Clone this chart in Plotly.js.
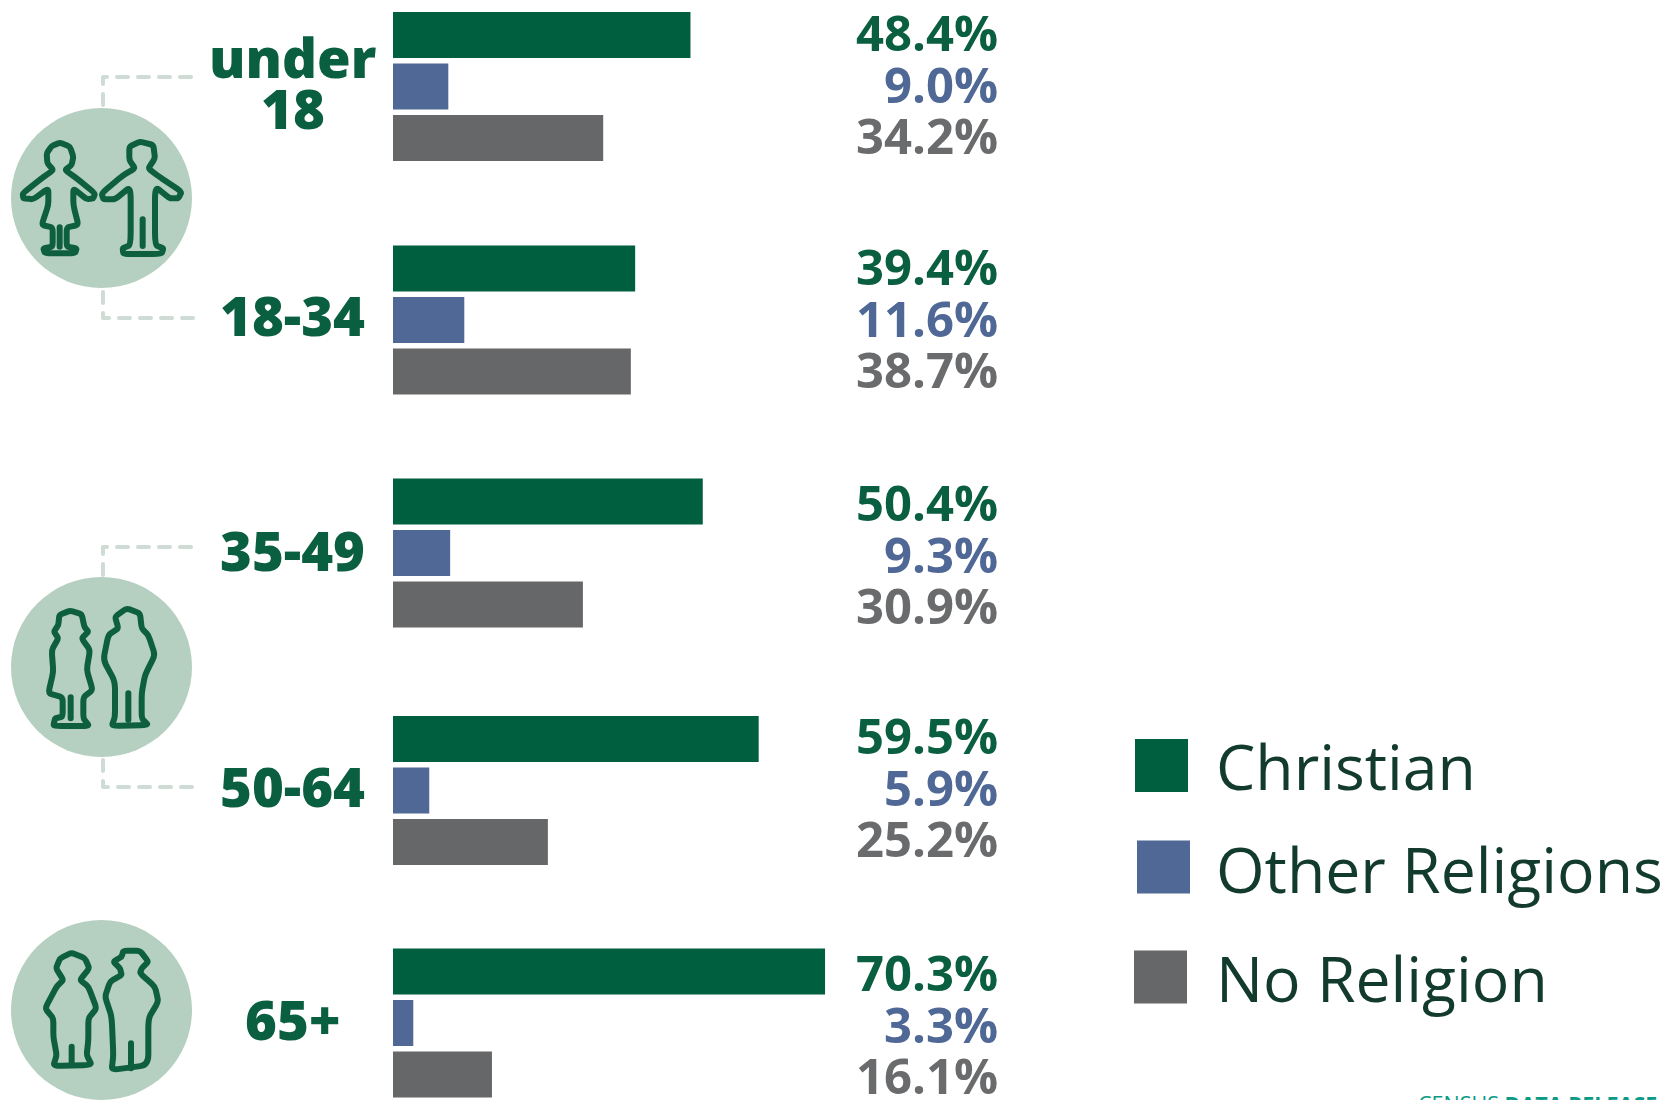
<!DOCTYPE html>
<html>
<head>
<meta charset="utf-8">
<script src="https://cdn.plot.ly/plotly-3.0.1.min.js"></script>
<style>html,body{margin:0;padding:0;background:#fff;overflow:hidden}#chart{width:1674px;height:1100px}.shapelayer path{stroke-linejoin:round;stroke-linecap:round}</style>
</head>
<body>
<div id="chart"></div>
<script>
// ---------- data ----------
const ageGroups = ['under 18', '18-34', '35-49', '50-64', '65+'];
const christian = [48.4, 39.4, 50.4, 59.5, 70.3];
const otherReligions = [9.0, 11.6, 9.3, 5.9, 3.3];
const noReligion = [34.2, 38.7, 30.9, 25.2, 16.1];
const seriesNames = ['Christian', 'Other Religions', 'No Religion'];

// ---------- layout constants (page pixels) ----------
const W = 1674, H = 1100;
const zeroX = 393, pxPerPct = 6.146;
const centers = [86.5, 320, 553, 790.5, 1023];
const offsets = [-51.5, 0, 51.5];
const labelRowTop = [32, 266, 502, 735, 972];
const labelRowStep = 51.5;
const ageLabelY = [null, 314.5, 550, 786, 1019];
const barW = 46;
const colors = ['#005f3f', '#4f6896', '#666769'];
const textColors = ['#0a5f40', '#4f6896', '#6a6b6d'];
const FONT = '"Open Sans", "Noto Sans", sans-serif';
const px = x => x / W;

const allSeries = [christian, otherReligions, noReligion];
const traces = allSeries.map((vals, s) => ({
  type: 'bar', orientation: 'h', name: seriesNames[s],
  x: vals, y: centers.map(c => c + offsets[s]), width: barW,
  marker: {color: colors[s], line: {width: 0}}, hoverinfo: 'name+x', showlegend: false
}));

// ---------- annotations ----------
const annotations = [];
allSeries.forEach((vals, s) => vals.forEach((v, i) => annotations.push({
  xref: 'paper', yref: 'y', x: px(999), y: labelRowTop[i] + s * labelRowStep,
  xanchor: 'right', yanchor: 'middle', showarrow: false, borderpad: 0,
  text: v.toFixed(1) + '%',
  font: {family: FONT, size: 49, color: textColors[s], weight: 700}
})));
ageGroups.forEach((g, i) => {
  const lines = g.split(' ');
  lines.forEach((ln, k) => annotations.push({
    xref: 'paper', yref: 'y', x: px(292.5),
    y: lines.length > 1 ? 57 + k * 51 : ageLabelY[i],
    xanchor: 'center', yanchor: 'middle', showarrow: false, borderpad: 0,
    text: ln, font: {family: FONT, size: 54.5, color: '#0a5f40', weight: 800}
  }));
});
const legendY = [765.5, 867, 977];
const legendTextY = [765.5, 868.5, 977];
const swatchX = [1135, 1137, 1134];
seriesNames.forEach((n, s) => annotations.push({
  xref: 'paper', yref: 'y', x: px(1215), y: legendTextY[s], xanchor: 'left', yanchor: 'middle',
  showarrow: false, borderpad: 0, text: n,
  font: {family: FONT, size: 62.5, color: '#123a2d', weight: 400}
}));
annotations.push({
  xref: 'paper', yref: 'y', x: px(1658), y: 1088, xanchor: 'right', yanchor: 'top',
  showarrow: false, borderpad: 0,
  text: 'CENSUS <b>DATA RELEASE</b>', font: {family: FONT, size: 21.5, color: '#0a9a86'}
});

// ---------- decoration shapes ----------
const shapes = [];
seriesNames.forEach((n, s) => shapes.push({
  type: 'rect', xref: 'paper', yref: 'y', x0: px(swatchX[s]), x1: px(swatchX[s] + 53),
  y0: legendY[s] - 26.5, y1: legendY[s] + 26.5, fillcolor: colors[s], line: {width: 0}
}));
const circleTops = [108, 577, 920];
circleTops.forEach(t => shapes.push({
  type: 'circle', xref: 'paper', yref: 'y', x0: px(11), x1: px(192), y0: t, y1: t + 180,
  fillcolor: '#b5cfc0', line: {width: 0}, layer: 'below'
}));
const connectors = [
  [[103, 105], [103, 77], [198, 77]],
  [[103, 292], [103, 318], [198, 318]],
  [[103, 575], [103, 547], [198, 547]],
  [[103, 760], [103, 787], [198, 787]]
];
connectors.forEach(c => shapes.push({
  type: 'path', xref: 'paper', yref: 'y',
  path: 'M' + c.map(p => px(p[0]) + ',' + p[1]).join(' L'),
  line: {color: '#cfdcd5', width: 4, dash: '11px,10px'}
}));

// outline with slightly rounded corners; coordinates are 3x crops with origin (ox, oy)
function outline(pts, ox, oy) {
  const P = pts.map(p => [ox + p[0] / 3, oy + p[1] / 3]);
  const lerp = (a, b, t) => [a[0] + (b[0] - a[0]) * t, a[1] + (b[1] - a[1]) * t];
  const n = P.length, f = q => px(q[0]) + ',' + q[1];
  let d = '';
  for (let i = 0; i < n; i++) {
    const a = lerp(P[i], P[(i + n - 1) % n], 0.22), b = lerp(P[i], P[(i + 1) % n], 0.22);
    d += (i ? ' L' : 'M') + f(a) + ' Q' + f(P[i]) + ' ' + f(b);
  }
  return d + ' Z';
}
function stroke(pts, ox, oy) {
  return 'M' + pts.map(p => px(ox + p[0] / 3) + ',' + (oy + p[1] / 3)).join(' L');
}
const girl = [[150,38],[180,50],[190,80],[185,105],[165,120],[200,145],[255,190],[250,205],[230,208],[190,175],[190,225],[205,285],[170,292],[170,350],[200,355],[195,370],[105,370],[100,355],[128,350],[128,292],[95,285],[115,225],[115,175],[70,208],[40,205],[38,190],[95,145],[130,120],[112,100],[110,70],[125,48]];
const boy = [[390,35],[430,45],[435,85],[415,115],[440,135],[515,185],[505,205],[480,205],[435,170],[435,345],[460,355],[455,372],[340,372],[338,355],[362,345],[362,170],[315,208],[280,208],[275,190],[340,135],[375,115],[358,90],[358,50]];
const woman2 = [[120,32],[155,42],[163,80],[175,95],[155,115],[180,150],[170,210],[188,270],[160,292],[160,355],[178,378],[70,378],[75,355],[98,350],[98,292],[55,280],[70,215],[65,150],[85,115],[72,95],[85,75],[88,45]];
const man2 = [[290,25],[330,40],[335,85],[355,105],[375,165],[345,225],[335,280],[335,355],[355,375],[245,378],[255,350],[255,245],[220,180],[235,105],[265,85],[255,50]];
const woman3 = [[125,38],[165,55],[178,85],[150,120],[175,140],[200,205],[175,235],[175,300],[170,345],[185,375],[70,378],[80,345],[70,290],[70,235],[45,205],[80,140],[100,120],[78,85],[90,55]];
const man3 = [[280,32],[330,32],[355,65],[335,85],[330,100],[375,140],[385,185],[355,235],[355,375],[245,390],[250,345],[245,230],[225,170],[240,125],[275,105],[270,85],[250,65],[275,50]];
const iconLine = {color: '#0d5f40', width: 6};
[[girl, 10, 130], [boy, 10, 130], [woman2, 30, 600], [man2, 30, 600], [woman3, 30, 940], [man3, 30, 940]].forEach(a => shapes.push({
  type: 'path', xref: 'paper', yref: 'y', path: outline(a[0], a[1], a[2]),
  fillcolor: 'rgba(0,0,0,0)', line: iconLine
}));
[[[[149,292],[149,350]], 10, 130], [[[398,268],[398,348]], 10, 130],
 [[[122,292],[122,355]], 30, 600], [[[295,280],[295,360]], 30, 600],
 [[[125,320],[125,370]], 30, 940], [[[303,310],[303,385]], 30, 940]].forEach(a => shapes.push({
  type: 'path', xref: 'paper', yref: 'y', path: stroke(a[0], a[1], a[2]), line: iconLine
}));

const layout = {
  width: W, height: H, margin: {l: 0, r: 0, t: 0, b: 0, pad: 0},
  paper_bgcolor: '#fff', plot_bgcolor: 'rgba(0,0,0,0)',
  barmode: 'overlay', showlegend: false,
  xaxis: {range: [-zeroX / pxPerPct, (W - zeroX) / pxPerPct], visible: false, fixedrange: true},
  yaxis: {range: [H, 0], visible: false, fixedrange: true},
  annotations, shapes
};
Plotly.newPlot('chart', traces, layout, {displayModeBar: false, staticPlot: true});
</script>
</body>
</html>
